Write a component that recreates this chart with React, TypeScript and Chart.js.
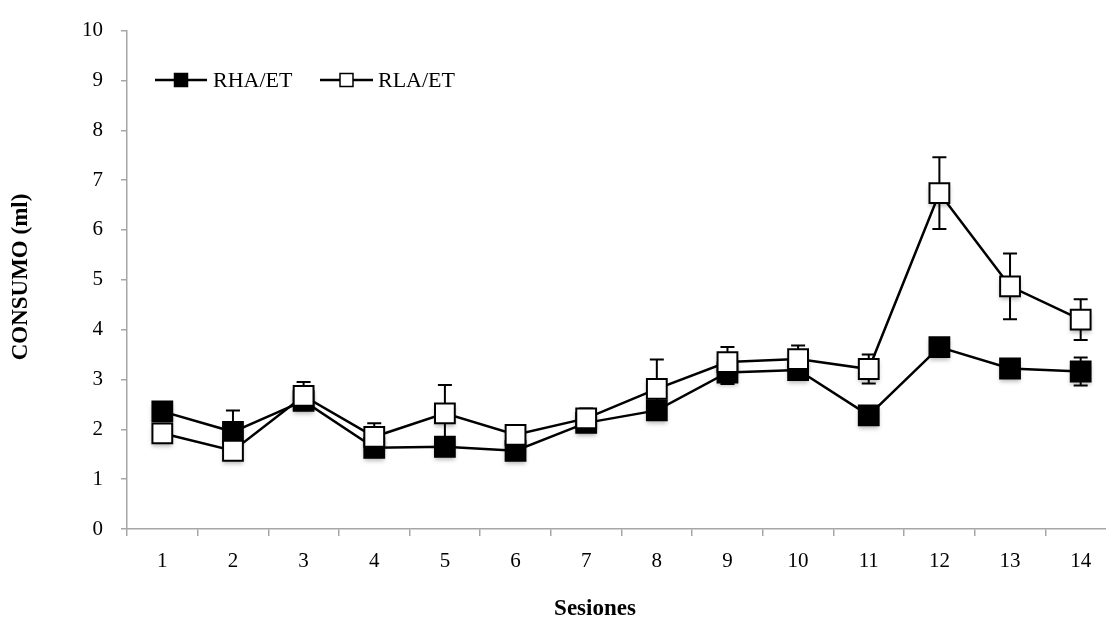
import React, { useEffect, useRef } from "react";
import { Chart, registerables } from "chart.js";

Chart.register(...registerables);

// Sessions on the x axis
const sessions = ["1", "2", "3", "4", "5", "6", "7", "8", "9", "10", "11", "12", "13", "14"];

// RHA/ET: mean intake (ml) and its error per session
const rhaMeans = [2.36, 1.95, 2.57, 1.63, 1.65, 1.57, 2.13, 2.38, 3.14, 3.19, 2.28, 3.65, 3.22, 3.16];
const rhaErrors = [0.12, 0.43, 0.1, 0.12, 0.12, 0.1, 0.1, 0.15, 0.23, 0.15, 0.12, 0.15, 0.15, 0.28];

// RLA/ET: mean intake (ml) and its error per session
const rlaMeans = [1.92, 1.57, 2.67, 1.85, 2.32, 1.89, 2.22, 2.81, 3.35, 3.41, 3.21, 6.74, 4.87, 4.2];
const rlaErrors = [0.1, 0.1, 0.28, 0.27, 0.57, 0.1, 0.2, 0.59, 0.3, 0.27, 0.29, 0.72, 0.66, 0.41];

const seriesNames = ["RHA/ET", "RLA/ET"];
const yTitle = "CONSUMO (ml)";
const xTitle = "Sesiones";

const SERIF = "'Liberation Serif', 'Times New Roman', serif";
const AXIS_GRAY = "#a6a6a6";
const CANVAS_W = 1132;
const CANVAS_H = 621;

// Soft shadows under the square markers, then the error bars
const underMarks = {
  id: "underMarks",
  beforeDatasetsDraw(chart: any) {
    const { ctx } = chart;
    const yScale = chart.scales.y;
    ctx.save();
    ctx.filter = "blur(2px)";
    ctx.fillStyle = "rgba(0,0,0,0.28)";
    chart.data.datasets.forEach((_ds: any, i: number) => {
      chart.getDatasetMeta(i).data.forEach((pt: any) => {
        ctx.fillRect(pt.x - 10, pt.y - 7, 20, 20);
      });
    });
    ctx.restore();

    ctx.save();
    ctx.strokeStyle = "#000";
    ctx.lineWidth = 2;
    chart.data.datasets.forEach((ds: any, i: number) => {
      const meta = chart.getDatasetMeta(i);
      meta.data.forEach((pt: any, j: number) => {
        const v = ds.data[j];
        const e = ds.errors[j];
        const top = yScale.getPixelForValue(v + e);
        const bot = yScale.getPixelForValue(v - e);
        ctx.beginPath();
        ctx.moveTo(pt.x, top);
        ctx.lineTo(pt.x, bot);
        ctx.moveTo(pt.x - 7, top);
        ctx.lineTo(pt.x + 7, top);
        ctx.moveTo(pt.x - 7, bot);
        ctx.lineTo(pt.x + 7, bot);
        ctx.stroke();
      });
    });
    ctx.restore();
  },
};

// Axis titles and the in-plot legend
const overlay = {
  id: "overlay",
  afterDraw(chart: any) {
    const { ctx } = chart;
    ctx.save();
    ctx.fillStyle = "#000";
    ctx.font = `bold 23px ${SERIF}`;
    ctx.textAlign = "center";
    ctx.textBaseline = "middle";
    ctx.fillText(xTitle, 595, 609);
    ctx.translate(21, 277);
    ctx.rotate(-Math.PI / 2);
    ctx.fillText(yTitle, 0, 0);
    ctx.restore();

    const items = [
      { x0: 155, x1: 207, fill: "#000", textX: 213 },
      { x0: 320, x1: 373, fill: "#fff", textX: 378 },
    ];
    const ly = 80;
    ctx.save();
    items.forEach((it, i) => {
      ctx.strokeStyle = "#000";
      ctx.lineWidth = 2.5;
      ctx.beginPath();
      ctx.moveTo(it.x0, ly);
      ctx.lineTo(it.x1, ly);
      ctx.stroke();
      const cx = (it.x0 + it.x1) / 2;
      ctx.fillStyle = it.fill;
      ctx.lineWidth = 1.5;
      ctx.fillRect(cx - 6.5, ly - 6.5, 13, 13);
      ctx.strokeRect(cx - 6.5, ly - 6.5, 13, 13);
      ctx.fillStyle = "#000";
      ctx.font = `22px ${SERIF}`;
      ctx.textAlign = "left";
      ctx.textBaseline = "middle";
      ctx.fillText(seriesNames[i], it.textX, ly + 1);
    });
    ctx.restore();
  },
};

export default function App() {
  const canvasRef = useRef<HTMLCanvasElement | null>(null);

  useEffect(() => {
    if (!canvasRef.current) return;
    Chart.defaults.font.family = SERIF;
    const chart = new Chart(canvasRef.current, {
      type: "line",
      data: {
        labels: sessions,
        datasets: [
          {
            label: seriesNames[0],
            data: rhaMeans,
            errors: rhaErrors,
            order: 1,
            borderColor: "#000",
            borderWidth: 2.5,
            backgroundColor: "#000",
            pointStyle: "rect",
            pointRadius: 14,
            pointHoverRadius: 14,
            pointBorderWidth: 2,
            pointBorderColor: "#000",
            pointBackgroundColor: "#000",
            tension: 0,
            fill: false,
          } as any,
          {
            label: seriesNames[1],
            data: rlaMeans,
            errors: rlaErrors,
            order: 0,
            borderColor: "#000",
            borderWidth: 2.5,
            backgroundColor: "#fff",
            pointStyle: "rect",
            pointRadius: 14,
            pointHoverRadius: 14,
            pointBorderWidth: 2,
            pointBorderColor: "#000",
            pointBackgroundColor: "#fff",
            tension: 0,
            fill: false,
          } as any,
        ],
      },
      options: {
        animation: false,
        responsive: false,
        maintainAspectRatio: false,
        devicePixelRatio: 1,
        layout: { padding: { top: 20, left: 0, right: 0, bottom: 0 } },
        plugins: {
          legend: { display: false },
          tooltip: { enabled: false },
        },
        scales: {
          x: {
            type: "category",
            offset: true,
            afterFit: (s: any) => {
              s.height = 92;
            },
            grid: {
              offset: true,
              drawOnChartArea: false,
              drawTicks: true,
              tickLength: 7,
              color: AXIS_GRAY,
              lineWidth: 1.5,
            },
            border: { display: true, color: AXIS_GRAY, width: 1.5 },
            ticks: {
              autoSkip: false,
              maxRotation: 0,
              padding: 13,
              color: "#000",
              font: { family: SERIF, size: 21 },
            },
          },
          y: {
            min: 0,
            max: 10,
            afterFit: (s: any) => {
              s.width = 127;
            },
            grid: {
              drawOnChartArea: false,
              drawTicks: true,
              tickLength: 6,
              color: AXIS_GRAY,
              lineWidth: 1.5,
            },
            border: { display: true, color: AXIS_GRAY, width: 1.5 },
            ticks: {
              stepSize: 1,
              padding: 18,
              color: "#000",
              font: { family: SERIF, size: 21 },
            },
          },
        },
      },
      plugins: [underMarks, overlay],
    });
    return () => chart.destroy();
  }, []);

  return (
    <div style={{ position: "fixed", left: 0, top: 0, width: CANVAS_W, height: CANVAS_H, background: "#fff" }}>
      <canvas ref={canvasRef} width={CANVAS_W} height={CANVAS_H} />
    </div>
  );
}
